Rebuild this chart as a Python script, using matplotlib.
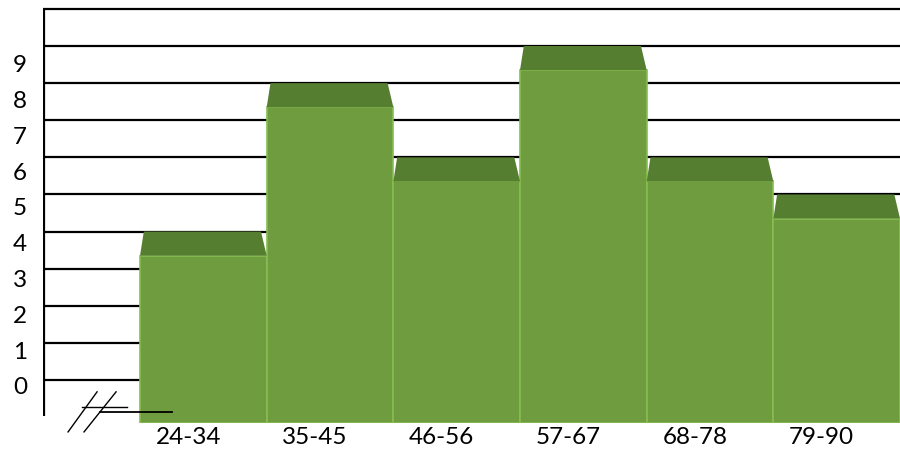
import numpy as np
import matplotlib
matplotlib.use('Agg')
import matplotlib.pyplot as plt
from matplotlib.patches import Polygon
from matplotlib.transforms import blended_transform_factory

plt.rcParams['font.family'] = ['Lato', 'DejaVu Sans']

# age groups and how many fall in each
groups = ['24-34', '35-45', '46-56', '57-67', '68-78', '79-90']
counts = [4, 8, 6, 9, 6, 5]
y_labels = [str(k) for k in range(10)]

front = '#6f9c3e'
top = '#567e30'
edge = '#86bd52'

fig = plt.figure(figsize=(9, 4.52), dpi=100)
ax = fig.add_axes([43 / 900, 1 - 424 / 452, 857 / 900, 423 / 452])
ybot, ytop = -1.16, 10.24
xleft, xright = -0.766, 6.0
ax.set_xlim(xleft, xright)
ax.set_ylim(ybot, ytop)
ax.axis('off')

# horizontal rules, 0 up to 10
ax.hlines(np.arange(0, 11), xleft, xright, color='black', lw=1.6, zorder=1)
# left axis line
ax.plot([xleft + 0.004, xleft + 0.004], [-0.97, 10], color='black', lw=1.6,
        zorder=1, solid_capstyle='butt')

bevel = 0.65
x = np.arange(len(groups))
vals = np.array(counts, dtype=float)
ax.bar(x, vals - bevel - ybot, bottom=ybot, width=1, align='edge',
       color=front, edgecolor=edge, linewidth=1.2, zorder=2)

# bevelled tops
for xi, v in zip(x, vals):
    poly = Polygon([(xi, v - bevel), (xi + 1, v - bevel),
                    (xi + 0.955, v), (xi + 0.03, v)],
                   closed=True, facecolor=top, edgecolor='none', zorder=3)
    ax.add_patch(poly)

# y labels sit between the rules
ty = blended_transform_factory(fig.transFigure, ax.transData)
for k, lab in enumerate(y_labels):
    ax.text(20 / 900, -0.189 + 0.965 * k, lab, transform=ty, ha='center',
            va='center', fontsize=17.5, color='black')

tx = blended_transform_factory(ax.transData, fig.transFigure)
for xi, lab in zip(x, groups):
    ax.text(xi + 0.38, 1 - 438 / 452, lab, transform=tx, ha='center',
            va='center', fontsize=17.5, color='black')

# axis break mark
ax.plot([-0.568, -0.339], [-1.40, -0.32], color='black', lw=1.0, clip_on=False, zorder=4)
ax.plot([-0.442, -0.189], [-1.40, -0.32], color='black', lw=1.0, clip_on=False, zorder=4)
ax.plot([-0.458, -0.103], [-0.728, -0.728], color='black', lw=1.0, clip_on=False, zorder=4)
ax.plot([-0.316, 0.253], [-0.863, -0.863], color='black', lw=1.3, clip_on=False, zorder=4)

fig.savefig('out.png', dpi=100, facecolor='white')
